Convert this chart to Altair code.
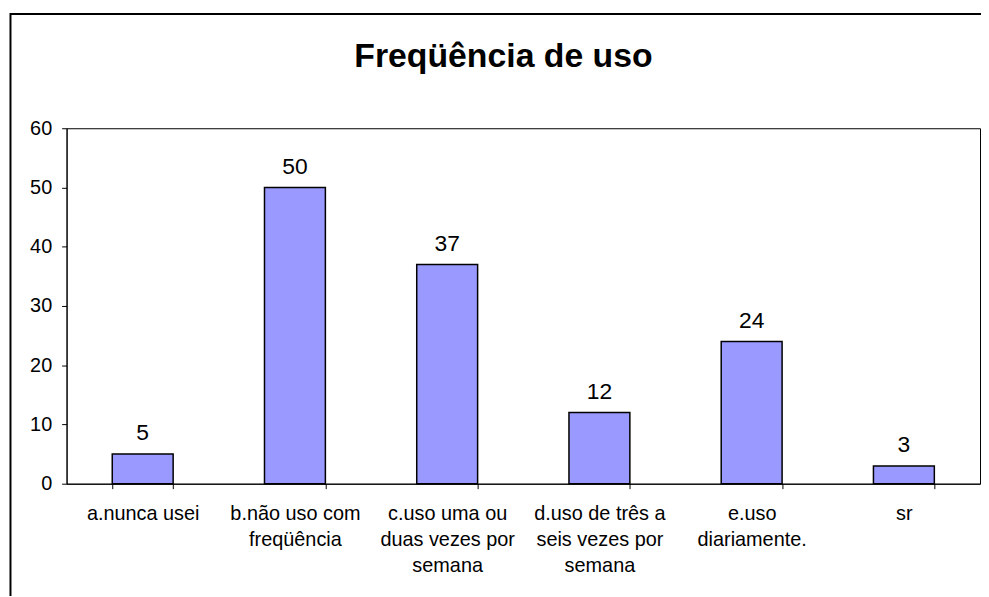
import altair as alt
import pandas as pd

categories = [
    "a.nunca usei",
    "b.não uso com\nfreqüência",
    "c.uso uma ou\nduas vezes por\nsemana",
    "d.uso de três a\nseis vezes por\nsemana",
    "e.uso\ndiariamente.",
    "sr",
]
values = [5, 50, 37, 12, 24, 3]
title_text = "Freqüência de uso"
y_ticks = [0, 10, 20, 30, 40, 50, 60]

df = pd.DataFrame({"cat": categories, "val": values})
FONT = "Liberation Sans"

x_enc = alt.X(
    "cat:N",
    sort=categories,
    title=None,
    scale=alt.Scale(paddingInner=0.6, paddingOuter=0.3),
    axis=alt.Axis(
        labelAngle=0,
        labelExpr="split(datum.label, '\\n')",
        tickBand="extent",
        tickSize=5,
        labelFontSize=20,
        labelLineHeight=26,
        labelBaseline="alphabetic",
        labelPadding=31,
        labelFont=FONT,
        labelColor="black",
        labelOverlap=False,
        labelLimit=0,
        domainColor="black",
        tickColor="black",
    ),
)
y_enc = alt.Y(
    "val:Q",
    title=None,
    scale=alt.Scale(domain=[0, 60]),
    axis=alt.Axis(
        values=y_ticks,
        grid=False,
        tickSize=5,
        labelPadding=10,
        labelFontSize=20,
        labelFont=FONT,
        labelColor="black",
        domainColor="black",
        tickColor="black",
    ),
)

base = alt.Chart(df).encode(x=x_enc, y=y_enc)
bars = base.mark_bar(color="#9999FF", stroke="black", strokeWidth=1.5)
labels = base.mark_text(dy=-14, baseline="alphabetic", fontSize=23, font=FONT, color="black").encode(text="val:Q")

title = alt.Chart(pd.DataFrame({"t": [title_text]})).mark_text(
    fontSize=34, fontWeight="bold", font=FONT, align="center", baseline="alphabetic", color="black"
).encode(x=alt.value(440), y=alt.value(-62), text="t:N")

frame = alt.Chart(pd.DataFrame({"a": [0]})).mark_rect(
    stroke="black", strokeWidth=2, fillOpacity=0
).encode(x=alt.value(-56.5), x2=alt.value(1000), y=alt.value(-115), y2=alt.value(700))

chart = alt.layer(frame, bars, labels, title).properties(
    width=920,
    height=358,
    autosize=alt.AutoSizeParams(type="none"),
    padding={"left": 59, "top": 119, "right": 1, "bottom": 111},
    background="white",
).configure_view(stroke="black", strokeWidth=1)

chart.save("out.html", embed_options={"renderer": "svg", "actions": False})
